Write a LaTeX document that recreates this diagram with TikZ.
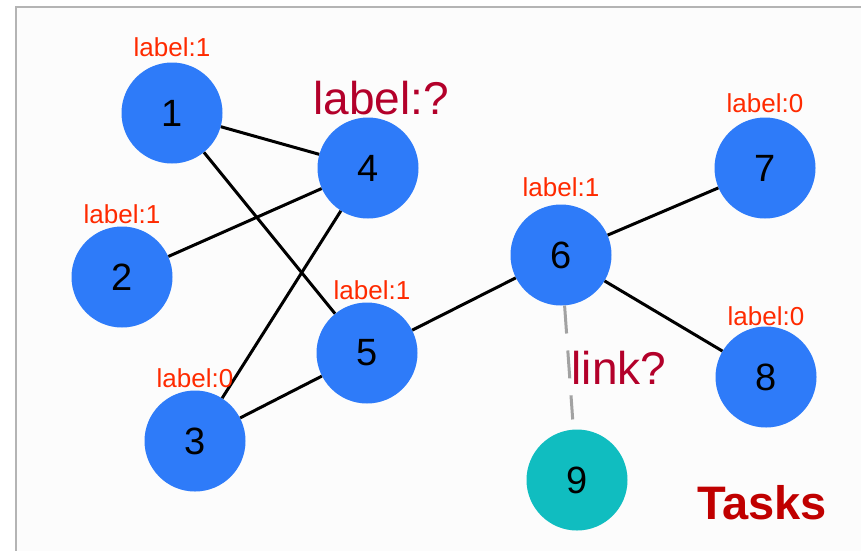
\documentclass[tikz,border=0pt]{standalone}
\usepackage{fontspec}
\setmainfont{Liberation Sans}
\definecolor{nodeblue}{HTML}{2E7BF9}
\definecolor{nodeteal}{HTML}{10BDC0}
\definecolor{labred}{HTML}{FF2A00}
\definecolor{askred}{HTML}{B3002A}
\definecolor{taskred}{HTML}{C00000}
\definecolor{framegray}{HTML}{B4B4B4}
\definecolor{panelfill}{HTML}{FCFCFC}
\tikzset{
  gnode/.style={circle, fill=nodeblue, minimum size=101pt, inner sep=0pt,
    font=\fontsize{38}{38}\selectfont},
  qnode/.style={gnode, fill=nodeteal},
  lab/.style={text=labred, font=\fontsize{26}{26}\selectfont, inner sep=0pt},
  ask/.style={text=askred, font=\fontsize{46}{46}\selectfont, inner sep=0pt},
  edge/.style={line width=3pt, black},
  candidate/.style={line width=3pt, draw=framegray!90!black, dash pattern=on 28pt off 17pt}
}
\begin{document}
\begin{tikzpicture}[x=1pt, y=-1pt]
  \useasboundingbox (0,0) rectangle (861,550);
  \fill[white] (0,0) rectangle (861,550);
  % panel frame (runs past the right and bottom edge)
  \begin{scope}
    \clip (0,0) rectangle (861,550);
    \draw[framegray, line width=2pt, fill=panelfill] (16,7) rectangle (880,570);
  \end{scope}

  % nodes
  \node[gnode] (n1) at (172,113) {1};
  \node[gnode] (n2) at (122,277) {2};
  \node[gnode] (n3) at (195,441) {3};
  \node[gnode] (n4) at (368,168) {4};
  \node[gnode] (n5) at (367,353) {5};
  \node[gnode] (n6) at (561,255) {6};
  \node[gnode] (n7) at (765,168) {7};
  \node[gnode] (n8) at (766,377) {8};
  \node[qnode] (n9) at (577,480) {9};

  % edges
  \draw[edge] (n1) -- (n4);
  \draw[edge] (n1) -- (n5);
  \draw[edge] (n2) -- (n4);
  \draw[edge] (n4) -- (n3);
  \draw[edge] (n3) -- (n5);
  \draw[edge] (n5) -- (n6);
  \draw[edge] (n6) -- (n7);
  \draw[edge] (n6) -- (n8);
  \draw[candidate, shorten >=10pt] (n6) -- (n9);

  % node labels
  \node[lab] (l1) at (172,47) {label:1};
  \node[lab] (l2) at (122,214) {label:1};
  \node[lab] (l3) at (195,378) {label:0};
  \node[lab] (l5) at (372,290) {label:1};
  \node[lab] (l6) at (561,187) {label:1};
  \node[lab] (l7) at (765,103) {label:0};
  \node[lab] (l8) at (766,316) {label:0};
  \node[ask] (l4) at (381,98) {label:?};
  \node[ask] (lk) at (619,368) {link?};
  \node[text=taskred, font=\fontsize{47}{47}\selectfont\bfseries, inner sep=0pt] (tasks) at (762,503) {Tasks};
\end{tikzpicture}
\end{document}
